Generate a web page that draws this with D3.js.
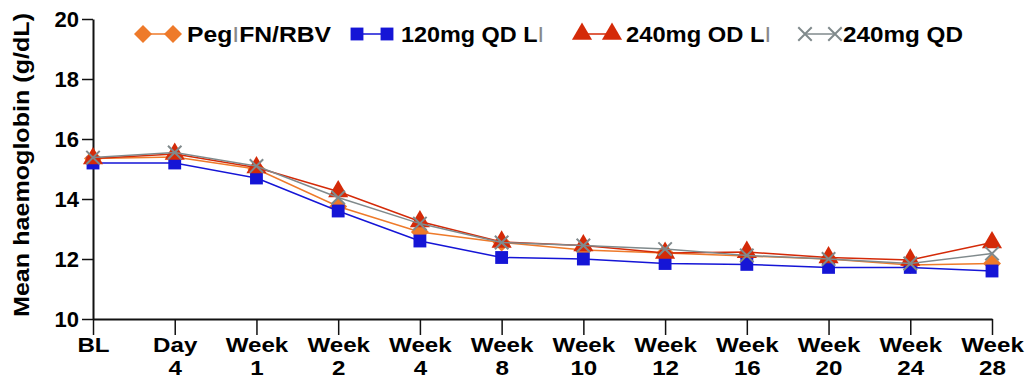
<!DOCTYPE html>
<html>
<head>
<meta charset="utf-8">
<script src="https://cdn.jsdelivr.net/npm/d3@7"></script>
<style>
  body { margin: 0; background: #fff; }
  svg text { font-family: "Liberation Sans", Arial, sans-serif; }
</style>
</head>
<body>
<div id="chart"></div>
<script>
"use strict";

// timepoints on the x axis (two-line labels)
var timepoints = ["BL", "Day 4", "Week 1", "Week 2", "Week 4", "Week 8", "Week 10",
                  "Week 12", "Week 16", "Week 20", "Week 24", "Week 28"];

// mean haemoglobin, g/dL
var pegIfn   = [15.35, 15.4, 15.0, 13.75, 12.9, 12.55, 12.3, 12.2, 12.1, 12.0, 11.8, 11.85];
var qd120Li  = [15.2, 15.2, 14.7, 13.6, 12.6, 12.05, 12.0, 11.85, 11.82, 11.72, 11.72, 11.6];
var od240Li  = [15.35, 15.5, 15.05, 14.25, 13.25, 12.57, 12.45, 12.2, 12.23, 12.05, 11.97, 12.55];
var qd240    = [15.38, 15.55, 15.1, 14.05, 13.18, 12.55, 12.45, 12.33, 12.12, 12.0, 11.85, 12.18];

var yTicks = [10, 12, 14, 16, 18, 20];

// legend labels: the "I" is drawn thin and grey in the original
var series = [
  { name: ["Peg", "I", "FN/RBV"], values: pegIfn,  color: "#ee7a2a", symbol: "diamond" },
  { name: ["120mg QD L", "I", ""], values: qd120Li, color: "#1515d6", symbol: "square" },
  { name: ["240mg OD L", "I", ""], values: od240Li, color: "#d42a08", symbol: "triangle" },
  { name: ["240mg QD", "", ""],   values: qd240,   color: "#808a8c", symbol: "cross" }
];

var width = 1027, height = 383;
var margin = { left: 93, right: 35, top: 19, bottom: 64 };

var svg = d3.select("#chart").append("svg")
  .attr("width", width).attr("height", height);

var x = d3.scalePoint().domain(timepoints).range([margin.left, width - margin.right]);
var y = d3.scaleLinear().domain([10, 20]).range([height - margin.bottom, margin.top]);

// y axis
var yAxis = svg.append("g")
  .attr("transform", "translate(" + margin.left + ",0)")
  .call(d3.axisLeft(y).tickValues(yTicks).tickSize(11).tickSizeOuter(0));
yAxis.select(".domain").attr("stroke", "#111").attr("stroke-width", 2);
yAxis.selectAll(".tick line").attr("stroke", "#111").attr("stroke-width", 1.5);
yAxis.selectAll(".tick text")
  .attr("font-size", 22).attr("font-weight", "bold").attr("fill", "#000")
  .attr("x", -14).attr("dy", "0.36em");

// x axis
var xAxis = svg.append("g")
  .attr("transform", "translate(0," + y(10) + ")")
  .call(d3.axisBottom(x).tickSize(16).tickSizeOuter(0).tickFormat(""));
xAxis.select(".domain").attr("stroke", "#111").attr("stroke-width", 2);
xAxis.selectAll(".tick line").attr("stroke", "#111").attr("stroke-width", 1.5);
xAxis.selectAll(".tick").each(function (d) {
  var parts = d.split(" ");
  var t = d3.select(this).append("text")
    .attr("fill", "#000").attr("font-size", 21).attr("font-weight", "bold")
    .attr("text-anchor", "middle")
    .attr("transform", "scale(1.15,1)");
  parts.forEach(function (p, i) {
    t.append("tspan").attr("x", 0).attr("y", 33 + i * 23).text(p);
  });
});

// y axis title
svg.append("text")
  .attr("transform", "translate(29," + (margin.top + 146) + ") rotate(-90)")
  .attr("text-anchor", "middle")
  .attr("font-size", 22).attr("font-weight", "bold")
  .attr("textLength", 304).attr("lengthAdjust", "spacingAndGlyphs")
  .text("Mean haemoglobin (g/dL)");

function symbolPath(kind) {
  if (kind === "diamond") return "M0,-9L9,0L0,9L-9,0Z";
  if (kind === "square") return d3.symbol().type(d3.symbolSquare).size(165)();
  if (kind === "triangle") return d3.symbol().type(d3.symbolTriangle).size(175)();
  return d3.symbol().type(d3.symbolTimes).size(120)();
}

function drawMarker(g, s) {
  var p = g.append("path").attr("d", symbolPath(s.symbol));
  if (s.symbol === "cross") {
    p.attr("fill", "none").attr("stroke", s.color).attr("stroke-width", 2);
  } else {
    p.attr("fill", s.color);
  }
  return p;
}

var line = d3.line()
  .x(function (d, i) { return x(timepoints[i]); })
  .y(function (d) { return y(d); });

series.forEach(function (s) {
  var g = svg.append("g");
  g.append("path")
    .attr("d", line(s.values))
    .attr("fill", "none").attr("stroke", s.color).attr("stroke-width", 1.5);
  s.values.forEach(function (v, i) {
    var m = g.append("g").attr("transform", "translate(" + x(timepoints[i]) + "," + y(v) + ")");
    drawMarker(m, s);
  });
});

// legend
var legendX = [143, 357, 582, 805];
var legendW = [144, 143, 145, 120];
series.forEach(function (s, i) {
  var g = svg.append("g").attr("transform", "translate(" + legendX[i] + ",34)");
  var gap = 30;
  g.append("line").attr("x1", 0).attr("x2", gap).attr("stroke", s.color).attr("stroke-width", 1.5);
  drawMarker(g.append("g"), s);
  drawMarker(g.append("g").attr("transform", "translate(" + gap + ",0)"), s);
  var t = g.append("text").attr("x", gap + (s.symbol === "cross" ? 8 : 14)).attr("y", 8)
    .attr("font-size", 22).attr("font-weight", "bold")
    .attr("textLength", legendW[i]).attr("lengthAdjust", "spacingAndGlyphs");
  t.append("tspan").text(s.name[0]);
  if (s.name[1]) {
    t.append("tspan").attr("font-weight", "normal").attr("fill", "#888").text(s.name[1]);
  }
  if (s.name[2]) t.append("tspan").text(s.name[2]);
});
</script>
</body>
</html>
